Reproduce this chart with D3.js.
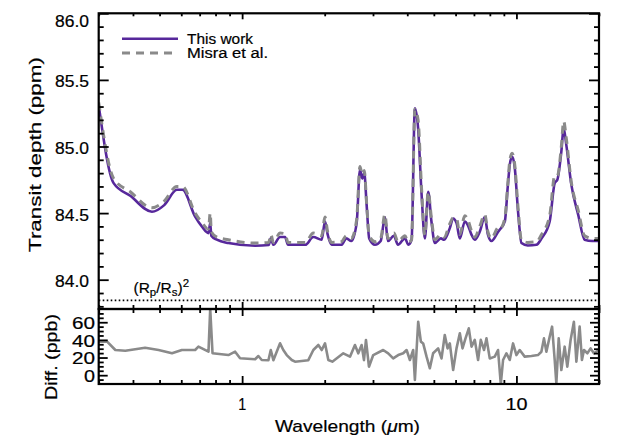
<!DOCTYPE html>
<html>
<head>
<meta charset="utf-8">
<script src="https://cdn.jsdelivr.net/npm/d3@7"></script>
<style>
  html, body { margin: 0; padding: 0; background: #fff; }
  svg { display: block; font-family: "Liberation Sans", Arial, Helvetica, sans-serif; }
  svg text { stroke: #000; stroke-width: 0.2px; }
</style>
</head>
<body>
<svg id="chart" width="618" height="442"></svg>
<script>
// ---------------- data ----------------
const wavelength = [0.30, 0.34, 0.391, 0.469, 0.52, 0.578, 0.606, 0.674, 0.713, 0.754, 0.765, 0.772, 0.809, 0.891,
  1.115, 1.25, 1.272, 1.30, 1.375, 1.434, 1.47, 1.7, 1.818, 1.95, 2.005, 2.05, 2.12, 2.3, 2.40, 2.5,
  2.615, 2.689, 2.74, 2.788, 2.844, 2.906, 3.05, 3.2, 3.316, 3.40, 3.575, 3.70, 3.921, 4.04, 4.148,
  4.264, 4.38, 4.511, 4.637, 4.768, 4.90, 5.042, 5.30, 5.45, 5.717, 5.878, 6.05, 6.22, 6.483, 6.65,
  6.85, 7.05, 7.35, 7.665, 7.87, 8.11, 8.58, 8.69, 9.07, 9.30, 9.455, 9.64, 9.85, 10.14, 10.43, 11.0,
  11.83, 12.35, 13.22, 13.79, 14.1, 14.58, 14.87, 15.2, 15.86, 16.8, 17.73, 18.9, 20.0];
const thisWork = [85.31, 84.725, 84.63, 84.51, 84.56, 84.675, 84.675, 84.474, 84.40, 84.35, 84.425, 84.33, 84.30, 84.275,
  84.255, 84.26, 84.31, 84.262, 84.32, 84.32, 84.262, 84.262, 84.32, 84.30, 84.437, 84.34, 84.262, 84.262, 84.31, 84.29,
  84.425, 84.825, 84.76, 84.80, 84.56, 84.31, 84.262, 84.29, 84.47, 84.29, 84.33, 84.262, 84.31, 84.262, 84.30,
  85.287, 85.14, 84.64, 84.31, 84.66, 84.437, 84.275, 84.31, 84.30, 84.387, 84.46, 84.425, 84.31, 84.437, 84.41,
  84.34, 84.30, 84.36, 84.47, 84.34, 84.29, 84.36, 84.375, 84.437, 84.70, 84.862, 84.925, 84.85, 84.51, 84.275, 84.257,
  84.262, 84.31, 84.437, 84.725, 84.75, 84.962, 85.137, 85.012, 84.712, 84.487, 84.30, 84.29, 84.29];
const misra = [85.33, 84.76, 84.66, 84.54, 84.59, 84.70, 84.70, 84.50, 84.43, 84.38, 84.50, 84.36, 84.32, 84.30,
  84.275, 84.28, 84.34, 84.28, 84.35, 84.345, 84.28, 84.28, 84.35, 84.33, 84.47, 84.36, 84.28, 84.285, 84.33, 84.31,
  84.45, 84.85, 84.79, 84.82, 84.57, 84.33, 84.285, 84.31, 84.49, 84.31, 84.35, 84.285, 84.33, 84.28, 84.30,
  85.28, 85.20, 84.68, 84.335, 84.66, 84.46, 84.30, 84.34, 84.32, 84.42, 84.465, 84.46, 84.34, 84.48, 84.45,
  84.37, 84.32, 84.40, 84.49, 84.36, 84.31, 84.39, 84.38, 84.46, 84.72, 84.89, 84.95, 84.87, 84.54, 84.295, 84.28,
  84.285, 84.34, 84.48, 84.78, 84.78, 85.00, 85.19, 85.06, 84.73, 84.52, 84.33, 84.31, 84.31];
const diffWavelength = [0.30, 0.322, 0.345, 0.375, 0.443, 0.496, 0.555, 0.603, 0.674, 0.693, 0.754, 0.765, 0.780, 0.891,
  0.943, 0.983, 1.115, 1.146, 1.179, 1.247, 1.272, 1.300, 1.375, 1.413, 1.454, 1.517, 1.559, 1.743, 1.818, 1.896,
  1.951, 2.005, 2.062, 2.132, 2.338, 2.473, 2.578, 2.651, 2.727, 2.781, 2.828, 2.900, 3.006, 3.268, 3.408, 3.554,
  3.707, 3.866, 3.978, 4.089, 4.204, 4.264, 4.384, 4.484, 4.571, 4.703, 4.835, 4.969, 5.183, 5.333, 5.48, 5.608,
  5.717, 5.88, 6.047, 6.218, 6.36, 6.522, 6.705, 6.859, 7.05, 7.248, 7.413, 7.621, 7.777, 7.994, 8.337, 8.57,
  8.77, 8.94, 9.195, 9.454, 9.719, 10.0, 10.28, 10.72, 11.34, 11.98, 12.33, 12.60, 12.86, 13.22, 13.49, 13.79,
  13.98, 14.26, 14.58, 14.99, 15.33, 15.76, 16.2, 16.54, 17.0, 17.33, 17.63, 18.14, 18.64, 19.16, 20.0];
const diffPpb = [38, 38, 28.5, 27.7, 31, 28.5, 24.8, 28.5, 28.5, 32.3, 26.6, 75, 24.8, 22.8,
  26.6, 19.1, 18, 21.7, 17.2, 17, 28.5, 17, 36.1, 28.5, 22.8, 17.2, 15.3, 17, 28.5, 34.2,
  28.5, 36.1, 17.2, 15.3, 24.8, 21, 34.2, 24.8, 34.2, 17, 39.9, 9.6, 22.8, 28.5, 24.8, 19,
  22.8, 24.8, 28.5, 17.2, 28.5, -5.5, 60.6, 38, 36, 21, 7.8, 24.8, 30.4, 19, 45.5, 30.4,
  36, 5.8, 30.4, 47.4, 30.4, 41.7, 53.1, 32.3, 40, 17.2, 40, 28.5, 41.7, 19, 21, 28.5,
  -10, 17.2, 24.8, 17.2, 36, 22.8, 28.5, 21, 21.7, 22.8, 26.6, 41.7, 26.6, 43.6, 55, 17.2,
  -9.3, 41.7, 5.8, 32.3, 9.6, 40, 60.6, 15.3, 55, 17.2, 28.5, 24.8, 30.4, 24.8, 28.5];
const rpRs2 = 83.845;
const xTickLabels = [1, 10];
const xMinorTicks = [0.3, 0.4, 0.5, 0.6, 0.7, 0.8, 0.9, 2, 3, 4, 5, 6, 7, 8, 9, 20];
const yMainTicks = [84.0, 84.5, 85.0, 85.5, 86.0];
const yMainLabels = ["84.0", "84.5", "85.0", "85.5", "86.0"];
const yMainMinor = [83.8, 83.9, 84.1, 84.2, 84.3, 84.4, 84.6, 84.7, 84.8, 84.9, 85.1, 85.2, 85.3, 85.4, 85.6, 85.7, 85.8, 85.9];
const yDiffTicks = [0, 20, 40, 60];
const yDiffMinor = [-5, 5, 10, 15, 25, 30, 35, 45, 50, 55, 65, 70];
const legendLabels = ["This work", "Misra et al."];

// ---------------- layout ----------------
const L = 98.7, R = 599, T = 13.3, MID = 309, B = 384;
const purple = "#57289b", gray = "#8a8a8a";
const FONT = "\"Liberation Sans\", Arial, Helvetica, sans-serif";

const svg = d3.select("#chart");
const x = d3.scaleLog().domain([0.3, 20]).range([L, R]);
const yM = d3.scaleLinear().domain([83.78, 86.0]).range([MID, T]);
const yD = d3.scaleLinear().domain([-10, 75]).range([B, MID]);

const defs = svg.append("defs");
defs.append("clipPath").attr("id", "clipMain").append("rect")
  .attr("x", L).attr("y", T).attr("width", R - L).attr("height", MID - T);
defs.append("clipPath").attr("id", "clipDiff").append("rect")
  .attr("x", L).attr("y", MID).attr("width", R - L).attr("height", B - MID);

// dotted (Rp/Rs)^2 line
svg.append("line").attr("x1", L).attr("x2", R).attr("y1", yM(rpRs2)).attr("y2", yM(rpRs2))
  .attr("stroke", "#000").attr("stroke-width", 1.6).attr("stroke-dasharray", "1.6,2.4");

// main curves
const lineMain = d3.line().x(d => x(d[0])).y(d => yM(d[1])).curve(d3.curveMonotoneX);
const gMain = svg.append("g").attr("clip-path", "url(#clipMain)");
gMain.append("path").datum(wavelength.map((w, i) => [w, thisWork[i]]))
  .attr("d", lineMain).attr("fill", "none").attr("stroke", purple).attr("stroke-width", 2.6)
  .attr("stroke-linejoin", "round");
gMain.append("path").datum(wavelength.map((w, i) => [w, misra[i]]))
  .attr("d", lineMain).attr("fill", "none").attr("stroke", gray).attr("stroke-width", 3)
  .attr("stroke-dasharray", "8,6").attr("stroke-linejoin", "round");

// diff curve
const lineDiff = d3.line().x(d => x(d[0])).y(d => yD(d[1]));
svg.append("g").attr("clip-path", "url(#clipDiff)").append("path")
  .datum(diffWavelength.map((w, i) => [w, diffPpb[i]]))
  .attr("d", lineDiff).attr("fill", "none").attr("stroke", gray).attr("stroke-width", 2.6)
  .attr("stroke-linejoin", "round");

// ---------------- axes (ticks inward on all sides) ----------------
function ticks(axisFn, scale, values, size, tx, ty) {
  const g = svg.append("g").attr("transform", `translate(${tx},${ty})`)
    .call(axisFn(scale).tickValues(values).tickSize(size).tickSizeOuter(0).tickFormat(""));
  g.select(".domain").remove();
  g.selectAll(".tick line").attr("stroke", "#000").attr("stroke-width", 1.8);
  return g;
}
// main panel x
ticks(d3.axisBottom, x, xTickLabels, 6, 0, T);
ticks(d3.axisBottom, x, xMinorTicks, 3, 0, T);
ticks(d3.axisTop, x, xTickLabels, 7, 0, MID);
ticks(d3.axisTop, x, xMinorTicks, 4, 0, MID);
// diff panel x
ticks(d3.axisBottom, x, xTickLabels, 7, 0, MID);
ticks(d3.axisBottom, x, xMinorTicks, 4, 0, MID);
ticks(d3.axisTop, x, xTickLabels, 8, 0, B);
ticks(d3.axisTop, x, xMinorTicks, 4, 0, B);
// main y
ticks(d3.axisRight, yM, yMainTicks, 10, L, 0);
ticks(d3.axisRight, yM, yMainMinor, 5, L, 0);
ticks(d3.axisLeft, yM, yMainTicks, 10, R, 0);
ticks(d3.axisLeft, yM, yMainMinor, 5, R, 0);
// diff y
ticks(d3.axisRight, yD, yDiffTicks, 9, L, 0);
ticks(d3.axisRight, yD, yDiffMinor, 5, L, 0);
ticks(d3.axisLeft, yD, yDiffTicks, 9, R, 0);
ticks(d3.axisLeft, yD, yDiffMinor, 5, R, 0);

// frames
svg.append("rect").attr("x", L).attr("y", T).attr("width", R - L).attr("height", MID - T)
  .attr("fill", "none").attr("stroke", "#000").attr("stroke-width", 2.2);
svg.append("rect").attr("x", L).attr("y", MID).attr("width", R - L).attr("height", B - MID)
  .attr("fill", "none").attr("stroke", "#000").attr("stroke-width", 2.2);

// ---------------- tick labels ----------------
const txt = (s, px, py, opts = {}) => {
  const t = svg.append("text").attr("x", px).attr("y", py).text(s)
    .attr("font-family", FONT).attr("font-size", opts.size || 16).attr("fill", "#000")
    .attr("text-anchor", opts.anchor || "start");
  if (opts.len) t.attr("textLength", opts.len).attr("lengthAdjust", "spacingAndGlyphs");
  return t;
};
yMainTicks.forEach((v, i) => {
  const cy = Math.max(yM(v) + 1.8, 21);
  txt(yMainLabels[i], 89, cy + 5.8, { anchor: "end", len: 34 });
});
yDiffTicks.forEach(v => {
  txt(String(v), 95, yD(v) + 6.8, { anchor: "end", len: v === 0 ? 11 : 23 });
});
xTickLabels.forEach(v => {
  txt(String(v), x(v), 410, { anchor: "middle", len: v === 10 ? 22 : 8 });
});

// axis titles
const xt = svg.append("text").attr("x", 347.5).attr("y", 431.5).attr("text-anchor", "middle")
  .attr("font-family", FONT).attr("font-size", 17).attr("textLength", 145).attr("lengthAdjust", "spacingAndGlyphs");
xt.append("tspan").text("Wavelength (");
xt.append("tspan").attr("font-style", "italic").text("\u03bc");
xt.append("tspan").text("m)");

svg.append("text").attr("transform", "translate(40.5,154.5) rotate(-90)").attr("text-anchor", "middle")
  .attr("font-family", FONT).attr("font-size", 17).attr("textLength", 195).attr("lengthAdjust", "spacingAndGlyphs")
  .text("Transit depth (ppm)");
svg.append("text").attr("transform", "translate(56.5,357) rotate(-90)").attr("text-anchor", "middle")
  .attr("font-family", FONT).attr("font-size", 17).attr("textLength", 86).attr("lengthAdjust", "spacingAndGlyphs")
  .text("Diff. (ppb)");

// (Rp/Rs)^2 annotation
const rt = svg.append("text").attr("x", 133.5).attr("y", 293).attr("font-family", FONT).attr("font-size", 15.5);
rt.append("tspan").text("(R");
rt.append("tspan").attr("font-size", 11.5).attr("dy", 3).text("p");
rt.append("tspan").attr("dy", -3).text("/R");
rt.append("tspan").attr("font-size", 11.5).attr("dy", 3).text("s");
rt.append("tspan").attr("dy", -3).text(")");
rt.append("tspan").attr("font-size", 11.5).attr("dy", -6).text("2");

// ---------------- legend ----------------
const lg = svg.append("g");
lg.append("line").attr("x1", 122).attr("x2", 178).attr("y1", 38.7).attr("y2", 38.7)
  .attr("stroke", purple).attr("stroke-width", 2.6);
lg.append("line").attr("x1", 122).attr("x2", 178).attr("y1", 53).attr("y2", 53)
  .attr("stroke", gray).attr("stroke-width", 3).attr("stroke-dasharray", "8,6");
txt(legendLabels[0], 187, 43.5, { size: 14, len: 66 });
txt(legendLabels[1], 187, 58, { size: 14, len: 81 });
</script>
</body>
</html>
